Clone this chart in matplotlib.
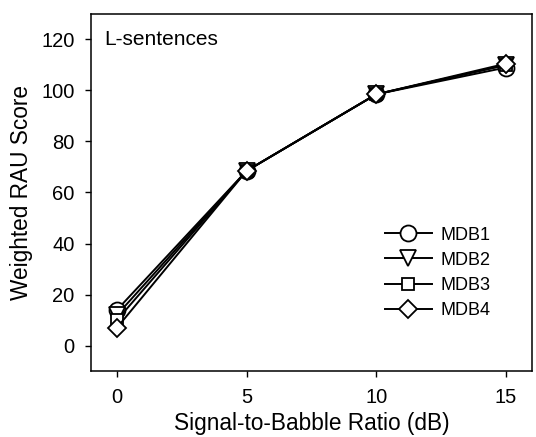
# Weighted RAU scores vs signal-to-babble ratio, L-sentences
import matplotlib
matplotlib.use('Agg')
import matplotlib.pyplot as plt

plt.rcParams['font.family'] = ['Liberation Sans', 'DejaVu Sans']

snr = [0, 5, 10, 15]
mdb1 = [14, 68.5, 98.5, 109]
mdb2 = [12, 68.5, 98.5, 110]
mdb3 = [10, 68.5, 98.5, 110]
mdb4 = [7, 68.5, 98.5, 110.5]
series = [('MDB1', mdb1, 'o'), ('MDB2', mdb2, 'v'),
          ('MDB3', mdb3, 's'), ('MDB4', mdb4, 'D')]
msizes = {'o': 11.5, 'v': 11, 's': 9, 'D': 9.5}

fig = plt.figure(figsize=(5.36, 4.37), dpi=100)
ax = fig.add_axes([0.170, 0.151, 0.822, 0.817])

for name, vals, m in series:
    ax.plot(snr, vals, color='black', lw=1.4, marker=m, ms=msizes[m],
            mfc='white', mec='black', mew=1.3, label=name)

ax.set_xlim(-1, 16)
ax.set_ylim(-10, 130)
ax.set_xticks([0, 5, 10, 15])
ax.set_yticks([0, 20, 40, 60, 80, 100, 120])
ax.tick_params(labelsize=14.5, direction='out', length=4, width=1, pad=8)
for s in ax.spines.values():
    s.set_linewidth(1.1)

ax.set_xlabel('Signal-to-Babble Ratio (dB)', fontsize=16.3, labelpad=4)
ax.set_ylabel('Weighted RAU Score', fontsize=16.3, labelpad=6)
ax.text(0.03, 120, 'L-sentences', transform=ax.get_yaxis_transform(),
        fontsize=15, va='center', ha='left')

ax.legend(loc='upper left', bbox_to_anchor=(0.63, 0.45), frameon=False,
          fontsize=13, handlelength=2.6, handletextpad=0.5, labelspacing=0.45)

fig.savefig('out.png', dpi=100)
